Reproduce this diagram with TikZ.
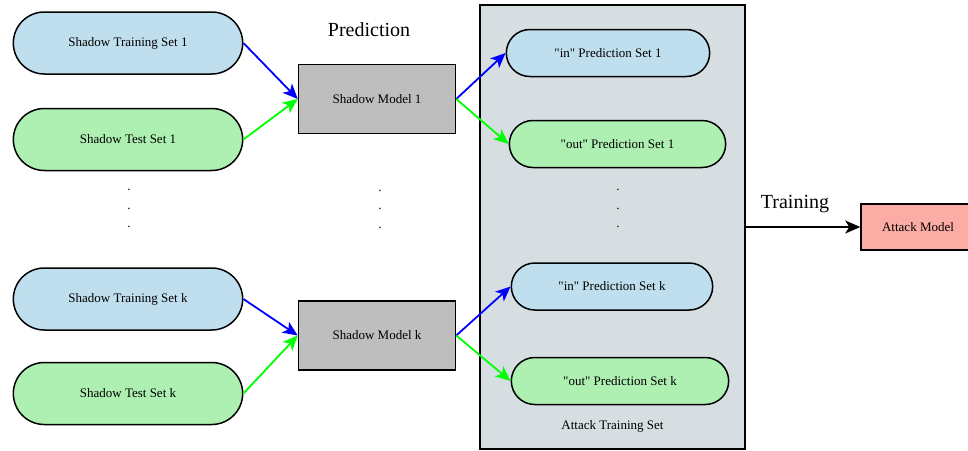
\documentclass[tikz,border=0pt]{standalone}
\usepackage{fontspec}
\setmainfont{Liberation Serif}[Ligatures=TeXOff]
\usepackage{tikz}
\usetikzlibrary{
    shapes.misc,
    arrows.meta,
    positioning,
}
\definecolor{trainBlue}{RGB}{192,223,238}
\definecolor{testGreen}{RGB}{174,240,178}
\definecolor{modelGray}{RGB}{190,190,190}
\definecolor{setGray}{RGB}{214,222,226}
\definecolor{attackRed}{RGB}{250,172,165}
\tikzset{
    dataset/.style = {
        rounded rectangle,
        minimum width=236pt,
        minimum height=62pt,
        line width=1.5pt,
        draw,
    },
    predset/.style = {
        rounded rectangle,
        minimum height=47pt,
        line width=1.5pt,
        draw,
    },
    model/.style = {
        rectangle,
        minimum width=157pt,
        minimum height=69pt,
        line width=1.5pt,
        fill=modelGray,
        draw,
    },
    setbox/.style = {
        rectangle,
        minimum width=265pt,
        minimum height=444pt,
        line width=1.5pt,
        fill=setGray,
        draw,
    },
    dots/.style = {
        align=center,
        font=\fontsize{13}{18.5}\selectfont,
    },
    biglabel/.style = {
        font=\fontsize{20}{24}\selectfont,
    },
}
\tikzstyle{arrow} = [
    line width=1.8pt,
    -{Stealth[length=15pt,width=13pt,inset=4pt]},
]

\begin{document}
\begin{tikzpicture}[x=1pt, y=-1pt]
        \tikzstyle{every node}=[font=\fontsize{13}{15.6}\selectfont]
        \useasboundingbox (0,0) rectangle (968,450);

        \node [setbox] (attackSet) at (612.5,227)
        {};

        \node [above=14pt of attackSet.south] (attackSetLabel)
        {Attack Training Set};

        \node [dataset, fill=trainBlue] (shadowTrain1) at (128,43)
        {Shadow Training Set 1};

        \node [dataset, fill=testGreen, below=33pt of shadowTrain1] (shadowTest1)
        {Shadow Test Set 1};

        \node [dataset, fill=trainBlue, below=96pt of shadowTest1] (shadowTrainK)
        {Shadow Training Set k};

        \node [dataset, fill=testGreen, below=31pt of shadowTrainK] (shadowTestK)
        {Shadow Test Set k};

        \node [dots] (dataDots) at (129,208.5)
        {.\\.\\.};

        \node [model] (shadowModel1) at (377,99)
        {Shadow Model 1};

        \node [model, below=166pt of shadowModel1] (shadowModelK)
        {Shadow Model k};

        \node [dots] (modelDots) at (380,209)
        {.\\.\\.};

        \node [biglabel] (prediction) at (369,30)
        {Prediction};

        \node [predset, fill=trainBlue, minimum width=210pt] (inPred1) at (608,53)
        {"in" Prediction Set 1};

        \node [predset, fill=testGreen, minimum width=223pt] (outPred1) at (617.5,144)
        {"out" Prediction Set 1};

        \node [dots] (predDots) at (618,208.5)
        {.\\.\\.};

        \node [predset, fill=trainBlue, minimum width=208pt] (inPredK) at (612,286.5)
        {"in" Prediction Set k};

        \node [predset, fill=testGreen, minimum width=224pt] (outPredK) at (620,381)
        {"out" Prediction Set k};

        \node [rectangle, draw, line width=1.5pt, fill=attackRed,
            minimum width=114pt, minimum height=46pt] (attackModel) at (918,227)
        {Attack Model};

        \draw [arrow, blue] (shadowTrain1.east) -- (shadowModel1.west);
        \draw [arrow, green] (shadowTest1.east) -- (shadowModel1.west);
        \draw [arrow, blue] (shadowTrainK.east) -- (shadowModelK.west);
        \draw [arrow, green] (shadowTestK.east) -- (shadowModelK.west);
        \draw [arrow, blue] (shadowModel1.east) -- (inPred1.west);
        \draw [arrow, green] (shadowModel1.east) -- (outPred1.west);
        \draw [arrow, blue] (shadowModelK.east) -- (inPredK.west);
        \draw [arrow, green] (shadowModelK.east) -- (outPredK.west);
        \draw [arrow] (attackSet.east) -- node [biglabel, above=10pt, pos=0.43] {Training} (attackModel.west);

    \end{tikzpicture}
\end{document}
